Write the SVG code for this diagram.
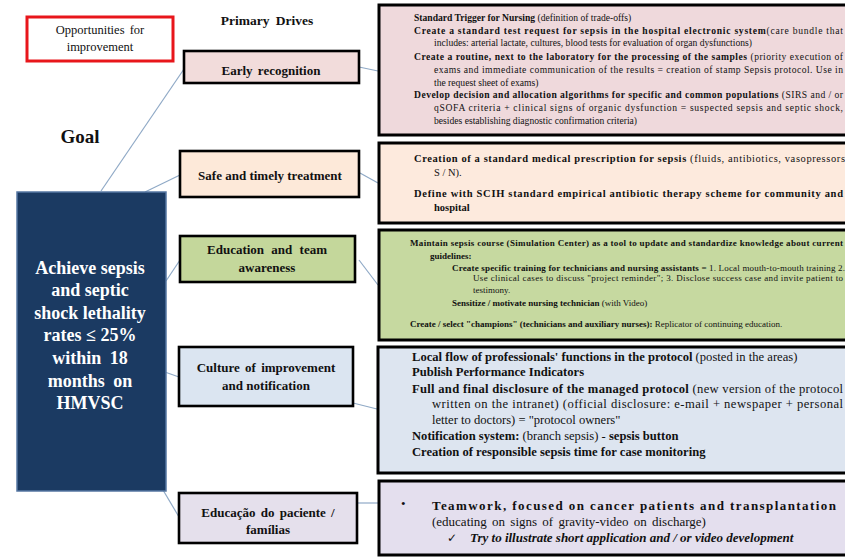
<svg xmlns="http://www.w3.org/2000/svg" width="845" height="557" viewBox="0 0 845 557">
  <style>
    text { font-family: "Liberation Serif", "DejaVu Serif", serif; fill: #111; }
    .b { font-weight: bold; }
    .drive { stroke: #000; stroke-width: 2.6; }
    .detail { stroke: #000; stroke-width: 3; }
    .dtxt { font-size: 13px; font-weight: bold; text-anchor: middle; }
    .goal { font-size: 18px; font-weight: bold; fill: #fff; text-anchor: middle; }
    .s1 { font-size: 9.6px; }
    .s2 { font-size: 10.5px; }
    .s3 { font-size: 9px; }
    .s4 { font-size: 12.6px; }
    .s5 { font-size: 13px; }
    .tick { font-family: "DejaVu Sans", sans-serif; font-size: 12px; }
    #connectors line { stroke: #8fa9c6; stroke-width: 1.2; }
  </style>

  <rect width="845" height="557" fill="#ffffff"/>

  <!-- headings -->
  <g id="legend">
    <rect x="27" y="17" width="146" height="44" fill="#fff" stroke="#e8161b" stroke-width="3"/>
    <text x="100" y="34" font-size="12.5" text-anchor="middle" word-spacing="2">Opportunities for</text>
    <text x="100" y="51" font-size="12.5" text-anchor="middle">improvement</text>
  </g>
  <text x="267" y="25" class="b" font-size="13.5" text-anchor="middle" word-spacing="3">Primary Drives</text>
  <text x="80" y="143" class="b" font-size="19" text-anchor="middle">Goal</text>

  <!-- connectors -->
  <g id="connectors">
    <line x1="101" y1="191" x2="184" y2="69"/>
    <line x1="145" y1="192" x2="180" y2="175"/>
    <line x1="166" y1="281" x2="180" y2="260"/>
    <line x1="162" y1="371" x2="179" y2="377"/>
    <line x1="163" y1="490" x2="179" y2="517"/>
    <line x1="359" y1="67" x2="378" y2="71"/>
    <line x1="360" y1="173" x2="378" y2="183"/>
    <line x1="359" y1="260" x2="378" y2="285"/>
    <line x1="353" y1="403" x2="377" y2="409"/>
    <line x1="357" y1="503" x2="378" y2="503"/>
  </g>

  <!-- goal -->
  <g id="goal">
    <rect x="17" y="192" width="149" height="299" fill="#1b3a62" stroke="#5677a3" stroke-width="1.5"/>
    <text x="90" y="274" class="goal">Achieve sepsis</text>
    <text x="90" y="296" class="goal">and septic</text>
    <text x="90" y="319" class="goal">shock lethality</text>
    <text x="90" y="341" class="goal">rates ≤ 25%</text>
    <text x="90" y="364" class="goal" word-spacing="4">within 18</text>
    <text x="90" y="387" class="goal" word-spacing="4">months on</text>
    <text x="90" y="409" class="goal">HMVSC</text>
  </g>

  <!-- primary drives -->
  <g id="drive-early">
    <rect x="184" y="51" width="175" height="32" fill="#f2dcdb" class="drive"/>
    <text x="271" y="75" class="dtxt" word-spacing="2">Early recognition</text>
  </g>
  <g id="drive-safe">
    <rect x="180" y="151" width="179" height="46" fill="#fde9d9" class="drive"/>
    <text x="270" y="180" class="dtxt">Safe and timely treatment</text>
  </g>
  <g id="drive-education">
    <rect x="180" y="236" width="175" height="46" fill="#c4d79b" class="drive"/>
    <text x="267" y="254" class="dtxt" word-spacing="4">Education and team</text>
    <text x="267" y="272" class="dtxt">awareness</text>
  </g>
  <g id="drive-culture">
    <rect x="179" y="347" width="174" height="59" fill="#dbe5f1" class="drive"/>
    <text x="266" y="372" class="dtxt" word-spacing="2">Culture of improvement</text>
    <text x="266" y="390" class="dtxt">and notification</text>
  </g>
  <g id="drive-patient">
    <rect x="179" y="493" width="178" height="50" fill="#e5e0ec" class="drive"/>
    <text x="268" y="517" class="dtxt" word-spacing="2">Educação do paciente /</text>
    <text x="268" y="534" class="dtxt">famílias</text>
  </g>

  <!-- secondary drives -->
  <g id="detail-early">
    <rect x="379" y="5" width="480" height="130" fill="#efd9dc" class="detail"/>
    <text x="414" y="21" class="s1"><tspan class="b">Standard Trigger for Nursing</tspan> (definition of trade-offs)</text>
    <text x="414" y="34" class="s1" textLength="429" lengthAdjust="spacing"><tspan class="b">Create a standard test request for sepsis in the hospital electronic system</tspan>(care bundle that</text>
    <text x="434" y="46" class="s1">includes: arterial lactate, cultures, blood tests for evaluation of organ dysfunctions)</text>
    <text x="414" y="60" class="s1" textLength="429" lengthAdjust="spacing"><tspan class="b">Create a routine, next to the laboratory for the processing of the samples</tspan> (priority execution of</text>
    <text x="434" y="73" class="s1" textLength="409" lengthAdjust="spacing">exams and immediate communication of the results = creation of stamp Sepsis protocol. Use in</text>
    <text x="434" y="86" class="s1">the request sheet of exams)</text>
    <text x="414" y="98" class="s1" textLength="429" lengthAdjust="spacing"><tspan class="b">Develop decision and allocation algorithms for specific and common populations</tspan> (SIRS and / or</text>
    <text x="434" y="111" class="s1" textLength="409" lengthAdjust="spacing">qSOFA criteria + clinical signs of organic dysfunction = suspected sepsis and septic shock,</text>
    <text x="434" y="124" class="s1">besides establishing diagnostic confirmation criteria)</text>
  </g>
  <g id="detail-safe">
    <rect x="379" y="143" width="480" height="80" fill="#fdeadd" class="detail"/>
    <text x="414" y="162" class="s2" textLength="431" lengthAdjust="spacing"><tspan class="b">Creation of a standard medical prescription for sepsis</tspan> (fluids, antibiotics, vasopressors</text>
    <text x="434" y="176" class="s2">S / N).</text>
    <text x="414" y="197" class="s2 b" textLength="429" lengthAdjust="spacing">Define with SCIH standard empirical antibiotic therapy scheme for community and</text>
    <text x="434" y="211" class="s2 b">hospital</text>
  </g>
  <g id="detail-education">
    <rect x="379" y="230" width="480" height="110" fill="#c6d9a0" class="detail"/>
    <text x="410" y="246" class="s3 b" textLength="433" lengthAdjust="spacing">Maintain sepsis course (Simulation Center) as a tool to update and standardize knowledge about current</text>
    <text x="430" y="259" class="s3 b">guidelines:</text>
    <text x="452" y="271" class="s3" textLength="393" lengthAdjust="spacing"><tspan class="b">Create specific training for technicians and nursing assistants</tspan> = 1. Local mouth-to-mouth training 2.</text>
    <text x="473" y="281" class="s3" textLength="370" lengthAdjust="spacing">Use clinical cases to discuss "project reminder"; 3. Disclose success case and invite patient to</text>
    <text x="473" y="293" class="s3">testimony.</text>
    <text x="452" y="306" class="s3"><tspan class="b">Sensitize / motivate nursing technician</tspan> (with Video)</text>
    <text x="410" y="327" class="s3"><tspan class="b">Create / select "champions" (technicians and auxiliary nurses):</tspan> Replicator of continuing education.</text>
  </g>
  <g id="detail-culture">
    <rect x="378" y="347" width="480" height="126" fill="#dde5f0" class="detail"/>
    <text x="412" y="361" class="s4"><tspan class="b">Local flow of professionals' functions in the protocol</tspan> (posted in the areas)</text>
    <text x="412" y="376" class="s4 b">Publish Performance Indicators</text>
    <text x="412" y="393" class="s4" textLength="431" lengthAdjust="spacing"><tspan class="b">Full and final disclosure of the managed protocol</tspan> (new version of the protocol</text>
    <text x="432" y="408" class="s4" textLength="411" lengthAdjust="spacing">written on the intranet) (official disclosure: e-mail + newspaper + personal</text>
    <text x="432" y="424" class="s4">letter to doctors) = "protocol owners"</text>
    <text x="412" y="440" class="s4"><tspan class="b">Notification system:</tspan> (branch sepsis) - <tspan class="b">sepsis button</tspan></text>
    <text x="412" y="456" class="s4 b">Creation of responsible sepsis time for case monitoring</text>
  </g>
  <g id="detail-patient">
    <rect x="379" y="481" width="480" height="74" fill="#e4dfee" class="detail"/>
    <text x="401" y="508" class="s5">•</text>
    <text x="432" y="510" class="s5 b" textLength="404" lengthAdjust="spacing">Teamwork, focused on cancer patients and transplantation</text>
    <text x="432" y="526" class="s5" word-spacing="2">(educating on signs of gravity-video on discharge)</text>
    <text x="447" y="542" class="tick">✓</text>
    <text x="470" y="542" class="s5 b" font-style="italic">Try to illustrate short application and / or video development</text>
  </g>
</svg>
